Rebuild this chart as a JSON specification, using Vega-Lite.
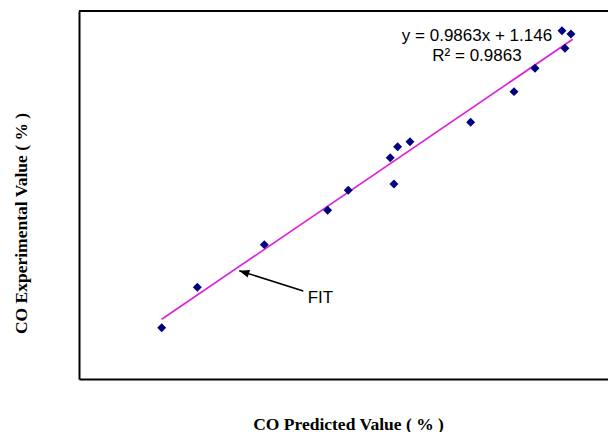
{
  "$schema": "https://vega.github.io/schema/vega-lite/v6.json",
  "autosize": "none",
  "width": 529,
  "height": 368,
  "padding": {"left": 79, "top": 11, "right": 0, "bottom": 53},
  "background": "white",
  "view": {"stroke": null},
  "config": {
    "axis": {"grid": false, "ticks": false, "labels": false, "domainColor": "#000000", "domainWidth": 2,
      "titleFont": "Liberation Serif", "titleFontWeight": "bold", "titleFontSize": 17.5, "titleColor": "#000000"}
  },
  "datasets": {
    "points": [
      {"predicted": 4.69, "experimental": 5.08},
      {"predicted": 6.71, "experimental": 8.40},
      {"predicted": 10.51, "experimental": 11.90},
      {"predicted": 14.10, "experimental": 14.72},
      {"predicted": 15.27, "experimental": 16.36},
      {"predicted": 17.65, "experimental": 19.04},
      {"predicted": 18.07, "experimental": 19.94},
      {"predicted": 18.77, "experimental": 20.35},
      {"predicted": 17.86, "experimental": 16.88},
      {"predicted": 22.21, "experimental": 21.94},
      {"predicted": 24.67, "experimental": 24.46},
      {"predicted": 25.86, "experimental": 26.38},
      {"predicted": 27.39, "experimental": 29.46},
      {"predicted": 27.90, "experimental": 29.19},
      {"predicted": 27.56, "experimental": 28.02}
    ],
    "fit": [
      {"predicted": 4.69, "experimental": 5.77},
      {"predicted": 28.0, "experimental": 28.76}
    ],
    "arrow": [
      {"x": 12.72, "y": 8.09, "x2": 9.09, "y2": 9.76}
    ],
    "labels": [
      {"x": 22.57, "y": 28.64, "text": "y = 0.9863x + 1.146"},
      {"x": 22.57, "y": 26.94, "text": "R² = 0.9863"}
    ]
  },
  "encoding": {
    "x": {"type": "quantitative", "scale": {"domain": [0, 30], "nice": false, "zero": false}},
    "y": {"type": "quantitative", "scale": {"domain": [0.87, 31.08], "nice": false, "zero": false}}
  },
  "layer": [
    {
      "data": {"name": "fit"},
      "mark": {"type": "line", "color": "#DD22DD", "strokeWidth": 1.7},
      "encoding": {
        "x": {"field": "predicted", "type": "quantitative", "axis": {"title": "CO Predicted Value ( % )", "titleBaseline": "alphabetic", "titleY": 50, "titleX": 269}},
        "y": {"field": "experimental", "type": "quantitative", "axis": {"title": "CO Experimental Value ( % )", "titleBaseline": "alphabetic", "titleX": -53, "titleY": 212, "titleAngle": -90}}
      }
    },
    {
      "data": {"name": "points"},
      "mark": {"type": "point", "shape": "diamond", "filled": true, "color": "#000080", "size": 80, "opacity": 1},
      "encoding": {
        "x": {"field": "predicted", "type": "quantitative"},
        "y": {"field": "experimental", "type": "quantitative"}
      }
    },
    {
      "data": {"name": "arrow"},
      "mark": {"type": "rule", "color": "#000000", "strokeWidth": 1.5},
      "encoding": {
        "x": {"field": "x", "type": "quantitative"},
        "y": {"field": "y", "type": "quantitative"},
        "x2": {"field": "x2"},
        "y2": {"field": "y2"}
      }
    },
    {
      "data": {"name": "arrow"},
      "mark": {"type": "point", "shape": "M0,0 L-0.8,2 L0.8,2 Z", "filled": true, "color": "#000000", "size": 100, "angle": 287.6, "opacity": 1},
      "encoding": {
        "x": {"field": "x2", "type": "quantitative"},
        "y": {"field": "y2", "type": "quantitative"}
      }
    },
    {
      "data": {"values": [{"x": 12.97, "y": 7.08, "text": "FIT"}]},
      "mark": {"type": "text", "font": "Liberation Sans", "fontSize": 17, "align": "left", "baseline": "alphabetic", "color": "#000000"},
      "encoding": {
        "x": {"field": "x", "type": "quantitative"},
        "y": {"field": "y", "type": "quantitative"},
        "text": {"field": "text"}
      }
    },
    {
      "data": {"name": "labels"},
      "mark": {"type": "text", "font": "Liberation Sans", "fontSize": 17, "align": "center", "baseline": "alphabetic", "color": "#000000"},
      "encoding": {
        "x": {"field": "x", "type": "quantitative"},
        "y": {"field": "y", "type": "quantitative"},
        "text": {"field": "text"}
      }
    },
    {
      "data": {"values": [{"top": 31.08, "left": 0, "right": 30}]},
      "mark": {"type": "rule", "color": "#000000", "strokeWidth": 2},
      "encoding": {
        "x": {"field": "left", "type": "quantitative"},
        "x2": {"field": "right"},
        "y": {"field": "top", "type": "quantitative"}
      }
    }
  ]
}
